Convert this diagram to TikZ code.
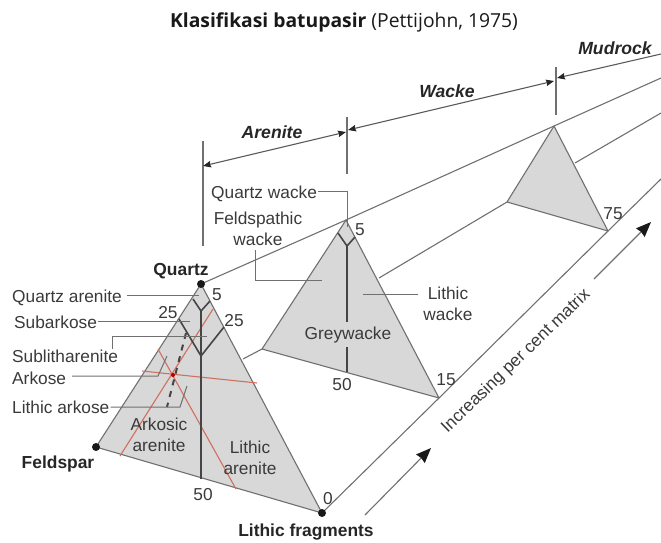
\documentclass[tikz,border=0pt]{standalone}
\usepackage{fontspec}
\setmainfont{Liberation Sans}
\newfontfamily\titlefont{Open Sans}
\usetikzlibrary{arrows.meta,calc}
\definecolor{txt}{HTML}{3A3A3A}
\definecolor{fillg}{HTML}{D8D8D8}
\definecolor{edgeg}{HTML}{707070}
\definecolor{darkl}{HTML}{454545}
\definecolor{redl}{HTML}{D0705F}
\tikzset{
  lab/.style={inner sep=0pt,text=txt,font=\fontsize{17.3}{21}\selectfont,align=center,text height=12.4pt,text depth=0pt},
  blab/.style={lab,font=\fontsize{17.4}{21}\selectfont\bfseries,text=black!85},
  ilab/.style={lab,font=\fontsize{17.6}{21}\selectfont\bfseries\itshape,text=black!85},
  tri/.style={fill=fillg,draw=edgeg,line width=1.1pt,line join=round},
  guide/.style={draw=edgeg,line width=1.1pt},
  lead/.style={draw=edgeg,line width=1pt},
  ink/.style={draw=darkl,line width=1.6pt},
  redline/.style={draw=redl,line width=1.1pt},
  dim/.style={draw=edgeg!80!black,line width=1.1pt,{Stealth[length=8pt,width=6.5pt,inset=1pt,color=black!85]}-{Stealth[length=8pt,width=6.5pt,inset=1pt,color=black!85]}},
  dimr/.style={draw=edgeg!80!black,line width=1.1pt,{Stealth[length=8pt,width=6.5pt,inset=1pt,color=black!85]}-},
  bigarrow/.style={draw=edgeg,line width=1.1pt,-{Stealth[length=15pt,width=12pt,inset=1pt,color=black!90]}},
  blackdot/.style={circle,fill=black!90,inner sep=0pt,minimum size=8pt}
}
\begin{document}
\begin{tikzpicture}[x=1pt,y=-1pt]
\useasboundingbox (0,0) rectangle (661,542);
% vertices
\coordinate (a1) at (201,284); \coordinate (f1) at (96,447); \coordinate (l1) at (322,513);
\coordinate (a2) at (346,220); \coordinate (f2) at (262,349); \coordinate (l2) at (439,398);
\coordinate (a3) at (554,126); \coordinate (f3) at (507,202); \coordinate (l3) at (608,231);
% guide lines
\coordinate (topEnd) at (661,78); \coordinate (midEnd) at (661,113); \coordinate (lowEnd) at (661,179);
\coordinate (m1a) at (243,359); \coordinate (m2a) at (379,278); \coordinate (m3a) at (575,163);
\draw[guide] (a1) -- (a2) -- (a3) -- (topEnd);
\draw[guide] (m1a) -- (f2);
\draw[guide] (m2a) -- (f3);
\draw[guide] (m3a) -- (midEnd);
\draw[guide] (l1) -- (l2) -- (l3) -- (lowEnd);
% triangles
\draw[tri] (a1) -- (f1) -- (l1) -- cycle;
\draw[tri] (a2) -- (f2) -- (l2) -- cycle;
\draw[tri] (a3) -- (f3) -- (l3) -- cycle;
% triangle 1 internals
\coordinate (d1l) at (193,299); \coordinate (d1b) at (201,311); \coordinate (d1r) at (210,301);
\coordinate (c1l) at (179,319); \coordinate (c1b) at (201,356); \coordinate (c1r) at (224,327);
\coordinate (b1) at (201,479);
\coordinate (ds1) at (186,333); \coordinate (ds2) at (167,407);
\coordinate (r1a) at (120,456); \coordinate (r1b) at (213,309);
\coordinate (r2a) at (158,349); \coordinate (r2b) at (236,489);
\coordinate (r3a) at (142,371); \coordinate (r3b) at (257,383);
\draw[redline] (r1a) -- (r1b);
\draw[redline] (r2a) -- (r2b);
\draw[redline] (r3a) -- (r3b);
\fill[red!70!black] (173,375) circle (2pt);
\draw[ink,line join=miter] (d1l) -- (d1b) -- (d1r);
\draw[ink,line join=miter] (c1l) -- (c1b) -- (c1r);
\draw[ink] (d1b) -- (b1);
\draw[draw=darkl,line width=2pt,dash pattern=on 6pt off 6pt] (ds1) -- (ds2);
% triangle 2 internals
\coordinate (d2l) at (338,233); \coordinate (d2b) at (347,246); \coordinate (d2r) at (355,237);
\coordinate (v2a) at (347,322); \coordinate (v2b) at (347,347); \coordinate (v2c) at (347,372);
\draw[ink,line join=miter] (d2l) -- (d2b) -- (d2r);
\draw[ink] (d2b) -- (v2a);
\draw[ink] (v2b) -- (v2c);
% ticks and dimensions
\coordinate (t1a) at (203,141); \coordinate (t1b) at (203,246);
\coordinate (t2a) at (347,117); \coordinate (t2b) at (347,174);
\coordinate (t3a) at (556,67);  \coordinate (t3b) at (556,115);
\draw[guide] (t1a) -- (t1b);
\draw[guide] (t2a) -- (t2b);
\draw[guide] (t3a) -- (t3b);
\coordinate (ar1) at (203,166); \coordinate (ar2) at (346,132);
\coordinate (wa1) at (348,130); \coordinate (wa2) at (554,81);
\coordinate (mu1) at (557,78);  \coordinate (mu2) at (661,54);
\draw[dim] (ar1) -- (ar2);
\draw[dim] (wa1) -- (wa2);
\draw[dimr] (mu1) -- (mu2);
% big arrows
\coordinate (ba1) at (365,515); \coordinate (ba2) at (431,448);
\coordinate (bb1) at (594,279); \coordinate (bb2) at (651,222);
\draw[bigarrow] (ba1) -- (ba2);
\draw[bigarrow] (bb1) -- (bb2);
% dots
\node[blackdot] (qdot) at (a1) {};
\node[blackdot] (fdot) at (f1) {};
\node[blackdot] (ldot) at (l1) {};
% title
\node[inner sep=0pt,font=\titlefont\fontsize{19.3}{22}\selectfont,text=black!90] (title) at (344,22) {\textbf{Klasifikasi batupasir} (Pettijohn, 1975)};
% dimension labels
\node[ilab] (arenite) at (272,132) {Arenite};
\node[ilab] (wacke) at (447,91) {Wacke};
\node[ilab] (mudrock) at (615,48) {Mudrock};
% corner labels
\node[blab] (quartz) at (181,269) {Quartz};
\node[blab] (feldspar) at (58,462) {Feldspar};
\node[blab] (lithicf) at (306,530) {Lithic fragments};
% left labels
\node[lab,anchor=west] (qa) at (12,296) {Quartz arenite};
\node[lab,anchor=west] (sa) at (14,322) {Subarkose};
\node[lab,anchor=west] (sl) at (12,356) {Sublitharenite};
\node[lab,anchor=west] (ak) at (12,378) {Arkose};
\node[lab,anchor=west] (la) at (12,407) {Lithic arkose};
% interior labels
\node[lab,text height=,text depth=] (aa) at (159,435) {Arkosic\\arenite};
\node[lab,text height=,text depth=] (lar) at (250,458) {Lithic\\arenite};
\node[lab] (gw) at (348,333) {Greywacke};
\node[lab,anchor=west] (qw) at (211,192) {Quartz wacke};
\node[lab,text height=,text depth=] (fw) at (258,229) {Feldspathic\\wacke};
\node[lab,text height=,text depth=] (lw) at (448,304) {Lithic\\wacke};
% numbers
\node[lab] (n5a) at (217,294) {5};
\node[lab] (n25a) at (168,312) {25};
\node[lab] (n25b) at (234,320) {25};
\node[lab] (n50a) at (203,494) {50};
\node[lab] (n0) at (328,498) {0};
\node[lab] (n5b) at (360,229) {5};
\node[lab] (n50b) at (342,384) {50};
\node[lab] (n15) at (446,379) {15};
\node[lab] (n75) at (613,213) {75};
\node[lab,rotate=44] (incr) at (515,360) {Increasing per cent matrix};
% leaders
\coordinate (qaE) at (199,295); \coordinate (saE) at (190,321);
\coordinate (slC) at (112,336); \coordinate (slE) at (207,336);
\coordinate (akC) at (158,376); \coordinate (akE) at (167,356); \coordinate (akS) at (72,376);
\coordinate (laC) at (180,407); \coordinate (laE) at (187,386);
\coordinate (qwC) at (347,191); \coordinate (qwE) at (347,227);
\coordinate (fwS) at (255,250); \coordinate (fwC) at (255,280); \coordinate (fwE) at (322,280);
\coordinate (lwS) at (418,294); \coordinate (lwE) at (363,294);
\draw[lead] (qa.east) ++(5,-1) -- (qaE);
\draw[lead] (sa.east) ++(1,-1) -- (saE);
\draw[lead] (sl.north -| slC) ++(0,-1) -- (slC) -- (slE);
\draw[lead] (akS) -- (akC) -- (akE);
\draw[lead] (la.east) ++(1,0) -- (laC) -- (laE);
\draw[lead] (qw.east) ++(1,-1) -- (qwC) -- (qwE);
\draw[lead] (fwS) -- (fwC) -- (fwE);
\draw[lead] (lwS) -- (lwE);
\end{tikzpicture}
\end{document}
